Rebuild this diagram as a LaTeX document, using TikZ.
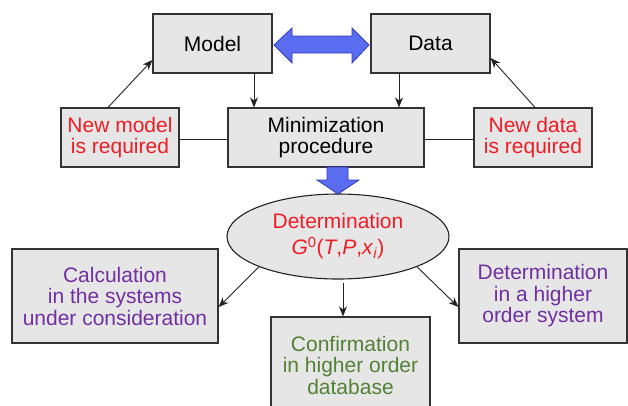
\documentclass[tikz,border=0pt]{standalone}
\usepackage{fontspec}
\setmainfont{Liberation Sans}
\usetikzlibrary{shapes.geometric,arrows.meta}
\definecolor{boxfill}{HTML}{E6E6E6}
\definecolor{boxline}{HTML}{333333}
\definecolor{tred}{HTML}{EE1C25}
\definecolor{tpurple}{HTML}{7030A0}
\definecolor{tgreen}{HTML}{538135}
\definecolor{bluefill}{HTML}{5A6CF0}
\definecolor{blueline}{HTML}{2F3CB5}
\definecolor{conn}{HTML}{222222}
\begin{document}
\begin{tikzpicture}[x=1pt,y=-1pt,
  box/.style={draw=boxline, fill=boxfill, line width=1.2pt, inner sep=0pt, align=center,
              font=\fontsize{21}{21.5}\selectfont},
  arr/.style={draw=conn, line width=0.9pt, -{Stealth[length=10pt,width=8pt]}},
  link/.style={draw=conn, line width=0.9pt},
  bluearrow/.style={fill=bluefill, draw=blueline, line width=0.8pt, line join=miter}]
\useasboundingbox (0,0) rectangle (628,405);
\begin{scope}
\clip (0,0) rectangle (628,405);
% top row
\node[box, minimum width=119pt, minimum height=59pt] (model) at (212.5,43.5) {Model};
\node[box, minimum width=119pt, minimum height=59pt] (data) at (430.5,43.5) {Data};
% middle row
\node[box, minimum width=196pt, minimum height=59pt] (min) at (326,137.5) {Minimization\\procedure};
\node[box, minimum width=118pt, minimum height=59pt, text=tred] (nm) at (120,137.5) {New model\\is required};
\node[box, minimum width=118pt, minimum height=59pt, text=tred] (nd) at (533,137.5) {New data\\is required};
% ellipse
\node[ellipse, draw=conn, fill=boxfill, line width=1.1pt, inner sep=0pt,
      minimum width=222pt, minimum height=85pt, align=center, text=tred,
      font=\fontsize{21}{24}\selectfont] (det) at (338,236.5)
      {Determination\\[2pt]\textit{G}\textsuperscript{0}(\textit{T},\textit{P},\textit{x}\textsubscript{\textit{i}})};
% bottom row
\node[box, minimum width=206pt, minimum height=94pt, text=tpurple] (calc) at (115,296)
      {Calculation\\in the systems\\under consideration};
\node[box, minimum width=168pt, minimum height=94pt, text=tpurple] (hdet) at (543,296)
      {Determination\\in a higher\\order system};
\node[box, minimum width=159pt, minimum height=96pt, text=tgreen] (conf) at (350.5,365)
      {Confirmation\\in higher order\\database};
\end{scope}
% blue arrows
\path[bluearrow] (274,45) -- (292,28) -- (292,36) -- (352,36) -- (352,28) -- (369,45)
  -- (352,63) -- (352,53) -- (292,53) -- (292,63) -- cycle;
\path[bluearrow] (327,167) -- (348,167) -- (348,180) -- (359,180) -- (338,194)
  -- (317,180) -- (327,180) -- cycle;
% connectors
\coordinate (ms) at ([xshift=41.5pt]model.south);
\coordinate (ds) at ([xshift=-31.5pt]data.south);
\draw[arr] (ms) -- (ms |- min.north);
\draw[arr] (ds) -- (ds |- min.north);
\draw[arr] ([xshift=-12pt]nm.north) -- ([yshift=-16.5pt]model.west);
\draw[arr] ([xshift=2pt]nd.north) -- ([yshift=-14.5pt]data.east);
\draw[link] ([yshift=-1.5pt]nm.east) -- ([yshift=-1.5pt]min.west);
\draw[link] ([yshift=-1.5pt]min.east) -- ([yshift=-1.5pt]nd.west);
\draw[arr] (det.201) -- ([yshift=-11pt]calc.east);
\draw[arr] (det.339) -- ([yshift=-11pt]hdet.west);
\coordinate (dsx) at ([xshift=5pt,yshift=-3pt]det.south);
\draw[arr] (dsx) -- (dsx |- conf.north);
\end{tikzpicture}
\end{document}
